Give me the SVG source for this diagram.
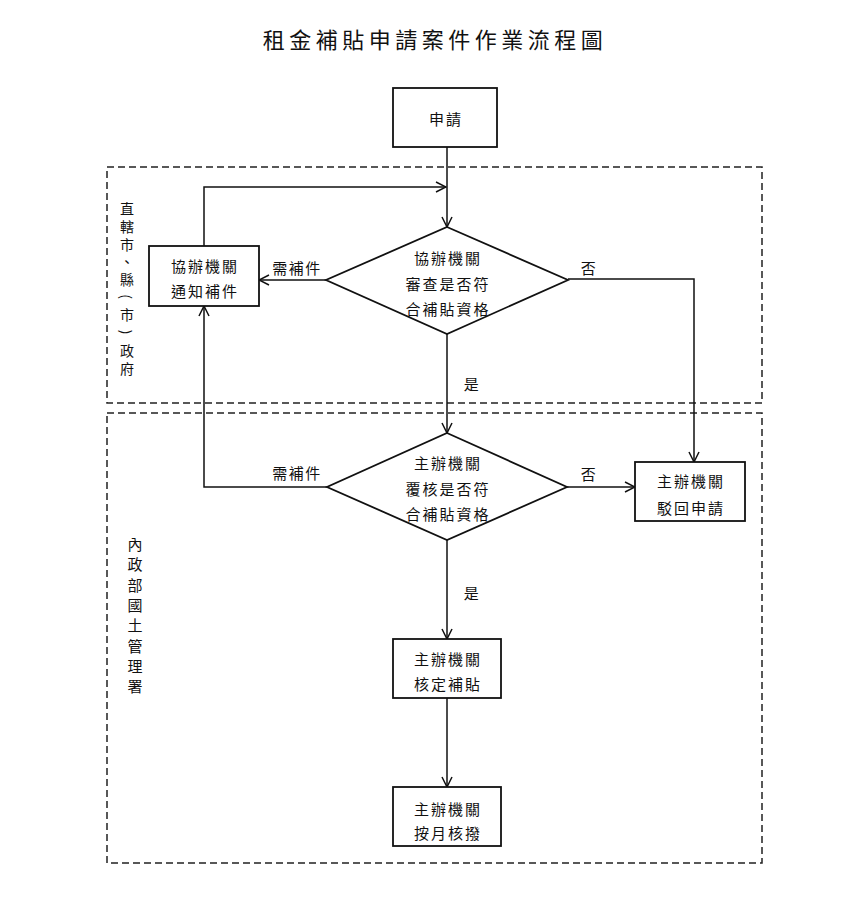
<svg xmlns="http://www.w3.org/2000/svg" width="865" height="902" viewBox="0 0 865 902">
<style>
text{font-family:"Noto Sans CJK TC","Noto Sans CJK SC",sans-serif;fill:#111;}
.t{font-size:15px;letter-spacing:2px;text-anchor:middle;dominant-baseline:central;}
.lb{font-size:15px;letter-spacing:1.5px;text-anchor:middle;dominant-baseline:central;}
.v{font-size:14px;text-anchor:middle;dominant-baseline:central;}
.box{fill:#fff;stroke:#111;stroke-width:1.8;}
.zone{fill:none;stroke:#222;stroke-width:1.5;stroke-dasharray:7 4;}
.c{fill:none;stroke:#111;stroke-width:1.5;}
</style>
<defs>
<marker id="ar" viewBox="0 0 12 12" refX="11" refY="6" markerWidth="12" markerHeight="12" markerUnits="userSpaceOnUse" orient="auto">
<path d="M1,1 L11,6 L1,11" fill="none" stroke="#111" stroke-width="1.5"/>
</marker>
</defs>
<rect width="865" height="902" fill="#fff"/>
<text x="435" y="38" style="font-size:22px;letter-spacing:4.5px;text-anchor:middle;dominant-baseline:central;">租金補貼申請案件作業流程圖</text>

<g id="zone-local">
<rect class="zone" x="107" y="167" width="655" height="236"/>
<g class="v">
<text x="127" y="208">直</text>
<text x="127" y="225.8">轄</text>
<text x="127" y="243.5">市</text>
<text x="127" y="261.2">、</text>
<text x="127" y="279">縣</text>
<text x="127" y="296.7" transform="rotate(90 127 296.7)">(</text>
<text x="127" y="314.4">市</text>
<text x="127" y="332.1" transform="rotate(90 127 332.1)">)</text>
<text x="127" y="349.8">政</text>
<text x="127" y="367.5">府</text>
</g>
</g>
<g id="zone-central">
<rect class="zone" x="107" y="413" width="655" height="450"/>
<g class="v" style="font-size:15px">
<text x="135" y="543">內</text>
<text x="135" y="563">政</text>
<text x="135" y="584">部</text>
<text x="135" y="604">國</text>
<text x="135" y="624">土</text>
<text x="135" y="645">管</text>
<text x="135" y="665">理</text>
<text x="135" y="685">署</text>
</g>
</g>

<g id="connectors">
<path class="c" d="M447,147 V227" marker-end="url(#ar)"/>
<path class="c" d="M204,246 V187 H446" marker-end="url(#ar)"/>
<path class="c" d="M326,280 H259" marker-end="url(#ar)"/>
<path class="c" d="M568,279 H694 V462" marker-end="url(#ar)"/>
<path class="c" d="M447,334 V433" marker-end="url(#ar)"/>
<path class="c" d="M327,487 H204 V306" marker-end="url(#ar)"/>
<path class="c" d="M567,487 H635" marker-end="url(#ar)"/>
<path class="c" d="M447,540 V639" marker-end="url(#ar)"/>
<path class="c" d="M447,698 V787" marker-end="url(#ar)"/>
<text class="lb" x="297" y="267">需補件</text>
<text class="lb" x="589" y="267">否</text>
<text class="lb" x="472" y="383">是</text>
<text class="lb" x="297" y="472">需補件</text>
<text class="lb" x="589" y="473">否</text>
<text class="lb" x="472" y="592">是</text>
</g>

<g id="apply">
<rect class="box" x="393" y="88" width="104" height="59"/>
<text class="t" x="446" y="118">申請</text>
</g>
<g id="notify">
<rect class="box" x="149" y="246" width="110" height="60"/>
<text class="t" x="205" y="265">協辦機關</text>
<text class="t" x="205" y="290">通知補件</text>
</g>
<g id="review1">
<polygon class="box" points="447,227 568,280 447,334 326,280"/>
<text class="t" x="448" y="257">協辦機關</text>
<text class="t" x="448" y="283">審查是否符</text>
<text class="t" x="448" y="308">合補貼資格</text>
</g>
<g id="review2">
<polygon class="box" points="447,433 567,487 447,540 327,487"/>
<text class="t" x="448" y="462">主辦機關</text>
<text class="t" x="448" y="488">覆核是否符</text>
<text class="t" x="448" y="513">合補貼資格</text>
</g>
<g id="reject">
<rect class="box" x="635" y="462" width="110" height="59"/>
<text class="t" x="691" y="480">主辦機關</text>
<text class="t" x="691" y="507">駁回申請</text>
</g>
<g id="approve">
<rect class="box" x="393" y="639" width="108" height="59"/>
<text class="t" x="448" y="658">主辦機關</text>
<text class="t" x="448" y="683">核定補貼</text>
</g>
<g id="pay">
<rect class="box" x="393" y="787" width="108" height="59"/>
<text class="t" x="448" y="808">主辦機關</text>
<text class="t" x="448" y="832">按月核撥</text>
</g>
</svg>
